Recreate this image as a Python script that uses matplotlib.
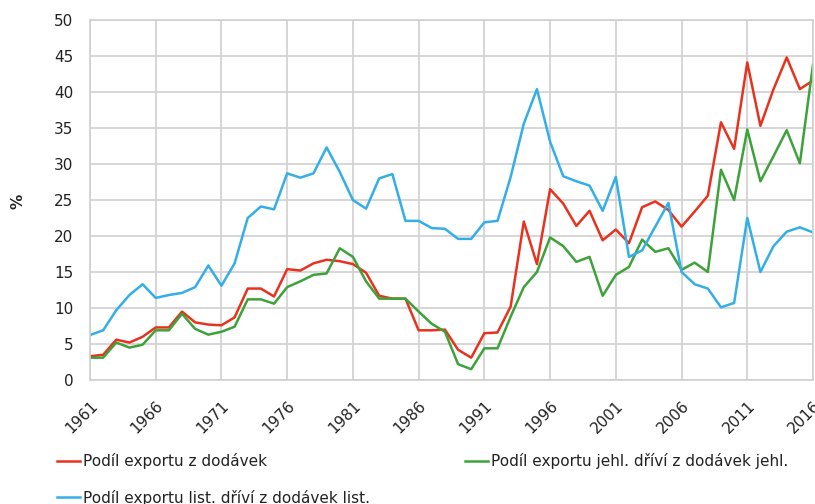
import numpy as np
import matplotlib.pyplot as plt
import matplotlib.transforms as mtransforms

years = np.arange(1961, 2017)

# Podil exportu z dodavek (red)
total = [3.3, 3.5, 5.6, 5.2, 6.0, 7.3, 7.3, 9.5, 8.0, 7.7,
         7.6, 8.7, 12.7, 12.7, 11.6, 15.4, 15.2, 16.2, 16.7, 16.5,
         16.1, 14.9, 11.7, 11.3, 11.3, 6.9, 6.9, 7.0, 4.2, 3.1,
         6.5, 6.6, 10.2, 22.0, 16.1, 26.5, 24.5, 21.4, 23.5, 19.4,
         20.9, 19.0, 24.0, 24.8, 23.6, 21.3, 23.4, 25.6, 35.8, 32.1,
         44.1, 35.3, 40.4, 44.8, 40.4, 41.6]

# Podil exportu jehl. drivi (green)
conif = [3.1, 3.1, 5.2, 4.5, 4.9, 6.9, 6.9, 9.2, 7.1, 6.3,
         6.7, 7.4, 11.2, 11.2, 10.6, 12.9, 13.7, 14.6, 14.8, 18.3,
         17.1, 13.7, 11.3, 11.3, 11.3, 9.5, 7.8, 6.7, 2.2, 1.5,
         4.4, 4.4, 8.8, 12.9, 15.0, 19.8, 18.6, 16.4, 17.1, 11.7,
         14.6, 15.7, 19.5, 17.8, 18.3, 15.3, 16.3, 15.0, 29.2, 25.0,
         34.8, 27.6, 31.1, 34.7, 30.1, 43.8]

# Podil exportu list. drivi (blue)
broad = [6.25, 6.9, 9.7, 11.8, 13.3, 11.4, 11.8, 12.1, 12.9, 15.9,
         13.1, 16.2, 22.5, 24.1, 23.7, 28.7, 28.1, 28.7, 32.3, 28.9,
         25.0, 23.8, 28.0, 28.6, 22.1, 22.1, 21.1, 21.0, 19.6, 19.6,
         21.9, 22.1, 28.2, 35.6, 40.4, 33.1, 28.3, 27.6, 27.0, 23.5,
         28.2, 17.1, 18.0, 21.3, 24.6, 15.0, 13.3, 12.7, 10.1, 10.7,
         22.5, 15.0, 18.6, 20.6, 21.2, 20.5]

labels = ['Podíl exportu z dodávek',
          'Podíl exportu jehl. dříví z dodávek jehl.',
          'Podíl exportu list. dříví z dodávek list.']
tick_years = list(range(1961, 2017, 5))

fig = plt.figure(figsize=(8.15, 5.04), dpi=100)
ax = fig.add_axes([90/815, 1-380/504, (813-90)/815, 360/504])

l1, = ax.plot(years, total, color='#e8321e', lw=1.8, label=labels[0])
l2, = ax.plot(years, conif, color='#3ea23a', lw=1.8, label=labels[1])
l3, = ax.plot(years, broad, color='#33aee8', lw=1.8, label=labels[2])

ax.set_xlim(1961, 2016)
ax.set_ylim(0, 50)
ax.set_yticks(range(0, 51, 5))
ax.set_xticks(tick_years)
ax.set_xticklabels([str(y) for y in tick_years], rotation=45, ha='right',
                   rotation_mode='anchor', fontsize=11, color='#222222')
shift = mtransforms.ScaledTranslation(2/100, 0, fig.dpi_scale_trans)
for t in ax.get_xticklabels():
    t.set_transform(t.get_transform() + shift)
for t in ax.get_yticklabels():
    t.set_fontsize(11)
    t.set_color('#222222')
ax.tick_params(axis='y', length=0, pad=12)
ax.tick_params(axis='x', length=0, pad=13)
ax.grid(True, color='#d0d0d0', lw=1.2)
ax.set_axisbelow(True)
for s in ax.spines.values():
    s.set_color('#d0d0d0')
    s.set_linewidth(1.2)

fig.text(18/815, 1-201/504, '%', rotation=90, fontsize=11, fontweight='bold',
         color='#222222', ha='center', va='center')

fig.legend([l1, l3, l2], [labels[0], labels[2], labels[1]],
           ncol=2, frameon=False, loc='upper left',
           bbox_to_anchor=(57/815, 1-453/504), fontsize=11,
           borderpad=0, borderaxespad=0,
           handlelength=1.5, handletextpad=0.2, columnspacing=6.25,
           labelspacing=1.35, labelcolor='#222222')

fig.savefig('out.png', dpi=100)
